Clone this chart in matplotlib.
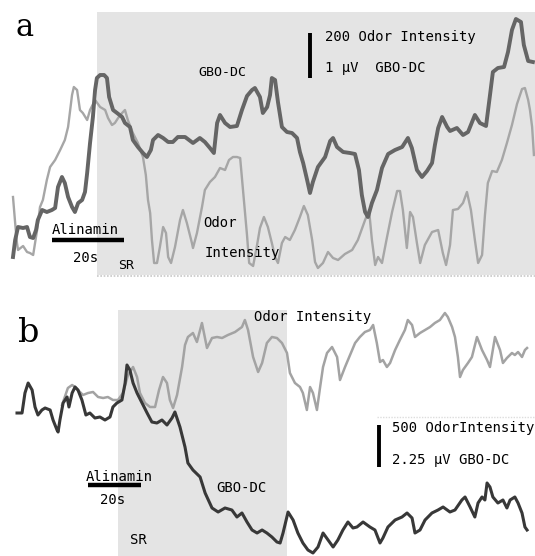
import numpy as np
import matplotlib
matplotlib.use("Agg")
from matplotlib import pyplot as plt

# ---- panel a: traces (time in s, amplitude in display units; scale bar = 45 units) ----
t_gbo_a = [0.0, 0.6, 1.4, 2.8, 3.9, 4.7, 5.6, 6.4, 6.9, 8.1, 9.4, 10.8, 11.7, 12.5, 13.6, 14.4,
           15.3, 16.4, 17.2, 18.1, 19.2, 20.0, 20.6, 21.4, 22.2, 22.8, 23.3, 24.2, 25.3, 26.1, 26.7,
           27.8, 28.9, 30.3, 31.1, 32.5, 33.3, 34.7, 36.1, 37.2, 38.3, 38.9, 40.3, 41.7, 43.1, 44.4,
           45.8, 47.8, 50.0, 51.9, 53.3, 54.7, 55.8, 56.7, 57.5, 58.9, 60.3, 62.2, 63.6, 65.0, 66.4,
           67.2, 68.6, 69.4, 70.6, 71.4, 71.9, 72.8, 73.6, 74.7, 76.1, 77.5, 78.9, 79.7, 80.6, 81.7,
           82.5, 83.3, 84.7, 86.7, 88.1, 88.9, 90.0, 91.7, 93.6, 95.0, 96.1, 96.9, 97.8, 98.6, 99.7,
           101.1, 102.5, 104.2, 106.1, 108.1, 109.7, 110.8, 112.2, 113.6, 115.0, 116.4, 117.2, 118.1,
           119.2, 120.6, 121.4, 123.3, 125.0, 126.4, 128.3, 129.7, 131.4, 132.5, 133.3, 134.7, 136.4,
           137.5, 138.6, 139.7, 141.1, 141.9, 143.1, 144.4]
gbo_a = [23, 40, 53, 52, 53, 43, 42, 50, 60, 70, 68, 70, 72, 93, 103, 97,
         83, 73, 68, 77, 80, 88, 107, 137, 163, 190, 202, 205, 205, 202, 183,
         170, 167, 163, 157, 153, 140, 133, 127, 123, 130, 140, 145, 142, 138, 138,
         143, 143, 137, 142, 138, 132, 127, 157, 165, 157, 153, 154, 170, 184, 190,
         192, 183, 167, 173, 185, 202, 200, 178, 153, 148, 147, 142, 128, 117, 100,
         87, 98, 113, 123, 139, 142, 133, 128, 127, 126, 110, 85, 68, 63, 77,
         90, 112, 126, 130, 133, 142, 132, 110, 103, 109, 117, 135, 152,
         163, 153, 149, 152, 145, 148, 165, 157, 154, 185, 208, 212, 213,
         228, 250, 261, 258, 235, 219, 218]

t_odor_a = [0.0, 0.6, 1.1, 1.4, 2.8, 3.9, 4.7, 5.6, 6.7, 7.5, 8.3, 9.4, 10.3, 11.7, 13.1, 14.4,
            15.3, 16.4, 16.9, 17.8, 18.6, 19.4, 20.6, 21.4, 22.8, 24.2, 25.6, 26.4, 27.5, 28.3,
            29.2, 30.3, 31.1, 31.9, 33.3, 34.7, 36.1, 36.9, 37.5, 38.1, 38.6, 39.2, 40.0, 40.8,
            41.7, 42.5, 43.1, 43.9, 45.0, 46.4, 47.2, 48.3, 49.7, 50.0, 51.1, 52.5, 53.3, 54.7,
            56.1, 57.5, 58.9, 60.0, 61.1, 62.2, 63.1, 63.9, 65.0, 65.6, 66.7, 67.8, 68.6, 69.7,
            70.8, 71.9, 72.8, 73.6, 74.7, 75.6, 76.9, 78.3, 79.7, 80.8, 81.9, 83.1, 83.9, 84.7,
            86.1, 87.5, 88.9, 90.3, 92.2, 94.2, 95.8, 97.8, 98.9, 99.7, 100.6, 101.4, 102.5, 103.9,
            105.3, 106.7, 107.5, 108.3, 109.4, 110.3, 111.1, 112.2, 113.1, 114.4, 116.4, 118.1,
            119.4, 120.3, 121.4, 122.2, 123.6, 125.0, 126.1, 127.2, 128.3, 129.2, 130.3, 131.1,
            131.9, 133.1, 134.4, 135.8, 137.2, 138.6, 140.0, 141.4, 142.2, 143.1, 143.6, 144.2, 144.7]
odor_a = [83, 57, 37, 30, 34, 28, 27, 25, 50, 73, 80, 100, 113, 120, 130, 140,
          153, 185, 193, 190, 170, 167, 160, 170, 180, 173, 170, 162, 155, 157,
          162, 167, 170, 160, 147, 137, 123, 105, 80, 67, 40, 17, 17, 33,
          53, 47, 23, 17, 33, 60, 70, 57, 37, 32, 47, 73, 90, 98,
          103, 112, 110, 120, 123, 123, 122, 90, 45, 17, 14, 35, 52, 63,
          53, 37, 23, 17, 37, 43, 40, 50, 63, 74, 65, 40, 18, 12,
          17, 28, 22, 20, 26, 30, 40, 60, 70, 40, 15, 23, 17, 43,
          68, 89, 89, 70, 32, 68, 63, 37, 17, 35, 48, 50,
          27, 15, 35, 70, 71, 77, 88, 70, 40, 17, 25, 65,
          97, 109, 108, 120, 137, 155, 176, 191, 192, 180, 170, 153, 125]

# ---- panel b ----
t_gbo_b = [0.0, 1.9, 3.0, 4.2, 5.7, 6.8, 7.9, 9.4, 10.6, 12.5, 13.6, 15.1, 15.5, 16.2, 17.4, 18.9,
           19.6, 20.8, 21.9, 23.0, 24.5, 26.0, 27.5, 29.4, 31.3, 33.2, 35.1, 36.2, 37.7, 39.6, 40.8,
           41.5, 42.6, 43.8, 45.3, 47.2, 49.1, 50.9, 52.8, 54.7, 56.6, 58.5, 59.6, 61.5, 63.4, 64.5,
           66.4, 69.1, 71.0, 73.6, 75.9, 78.5, 81.1, 83.0, 84.9, 86.8, 88.7, 90.6, 92.5, 94.3, 96.2,
           98.1, 99.3, 100.4, 102.3, 104.2, 106.0, 107.9, 109.8, 111.7, 113.6, 115.5, 117.4, 119.3,
           121.1, 123.0, 124.9, 126.8, 128.3, 130.6, 133.2, 135.1, 137.0, 138.1, 140.0, 142.7, 145.3,
           147.2, 149.1, 150.2, 152.1, 154.0, 156.6, 158.9, 160.8, 163.4, 165.3, 167.9, 169.1, 171.0,
           172.8, 174.0, 175.5, 176.6, 177.4, 178.5, 179.6, 181.5, 183.4, 184.9, 186.1, 187.9, 189.1,
           190.6, 191.7, 192.5]
gbo_b = [147, 147, 167, 177, 170, 153, 145, 150, 152, 150, 140, 130, 128, 140, 157, 163,
         153, 167, 173, 170, 160, 145, 147, 142, 143, 140, 143, 153, 157, 160, 177,
         195, 190, 177, 167, 157, 147, 138, 137, 140, 135, 142, 148, 133, 113, 97,
         90, 83, 67, 52, 48, 52, 50, 43, 47, 38, 30, 27, 30, 27, 23,
         18, 17, 27, 48, 40, 27, 17, 10, 7, 13, 27, 20, 13,
         20, 30, 38, 32, 33, 38, 33, 30, 17, 22, 33, 40, 43,
         47, 42, 27, 30, 40, 47, 50, 53, 48, 50, 60, 63, 53,
         43, 57, 63, 60, 77, 73, 63, 57, 60, 52, 60, 63, 57,
         47, 33, 30]

t_odor_b = [17.0, 19.2, 20.8, 21.9, 23.0, 24.9, 26.8, 28.7, 30.6, 32.5, 34.3, 36.2, 38.1, 40.0,
            41.9, 43.8, 45.3, 46.4, 48.3, 50.2, 52.1, 53.6, 55.1, 56.6, 57.7, 58.9, 60.4, 62.3,
            63.4, 64.5, 66.4, 67.9, 69.8, 71.7, 73.6, 75.5, 77.4, 79.6, 82.3, 84.9, 86.0, 87.2,
            89.1, 91.0, 92.5, 94.3, 96.2, 98.1, 100.0, 101.9, 103.0, 104.9, 106.8, 107.9, 109.4,
            110.6, 111.7, 113.2, 114.4, 115.5, 117.0, 118.9, 120.8, 121.9, 123.8, 125.7, 127.6,
            129.4, 131.3, 133.2, 134.4, 135.8, 137.0, 138.1, 139.6, 140.8, 142.7, 144.5, 146.4,
            147.5, 149.1, 150.2, 152.1, 154.0, 155.9, 157.7, 159.6, 161.5, 162.6, 164.2, 165.3,
            166.4, 167.2, 168.3, 170.2, 171.7, 173.6, 175.5, 177.4, 178.5, 180.4, 182.3, 183.4,
            184.9, 186.8, 187.9, 189.1, 190.6, 191.7, 192.5]
odor_b = [155, 172, 175, 173, 170, 165, 167, 168, 163, 162, 163, 160, 160, 167,
          185, 193, 183, 167, 157, 153, 153, 170, 183, 177, 160, 152, 165, 193,
          215, 223, 227, 218, 237, 212, 222, 223, 222, 225, 228, 233, 240, 230,
          203, 188, 197, 217, 223, 222, 217, 207, 187, 177, 173, 167, 150,
          173, 167, 150, 173, 193, 207, 213, 203, 180, 193, 205, 217,
          223, 228, 230, 235, 217, 198, 200, 193, 197, 210, 220, 230,
          240, 235, 223, 227, 230, 233, 237, 240, 247, 243, 233, 223,
          203, 183, 190, 197, 203, 223, 210, 200, 193, 223, 210, 197,
          202, 207, 205, 208, 203, 210, 212]

# stimulus windows (s) and scale bars
sr_a = (23.3, 145.0)
sr_b = (38.1, 101.9)
bar_units = 45          # vertical scale bar height, display units

shade = "#e4e4e4"
mono = "DejaVu Sans Mono"

fig = plt.figure(figsize=(5.35, 5.56), dpi=100)

# ---------------- panel a ----------------
ax = fig.add_axes([0, 271 / 556, 1, 285 / 556])
ax.set_xlim(-3.61, 145.0)
ax.set_ylim(-5, 280)
ax.axis("off")
ax.fill_between(sr_a, 5, 268, color=shade, lw=0, zorder=0)
ax.plot(sr_a, [4, 4], color="#c8c8c8", lw=1.2, ls=(0, (1, 1)), zorder=1)
ax.plot(t_odor_a, odor_a, color="#a6a6a6", lw=1.7, zorder=2, solid_joinstyle="round")
ax.plot(t_gbo_a, gbo_a, color="#656565", lw=2.8, zorder=3, solid_joinstyle="round")
ax.plot([10.8, 30.8], [40, 40], color="black", lw=3.2, solid_capstyle="butt")
ax.plot([82.5, 82.5], [202, 202 + bar_units], color="black", lw=2.8, solid_capstyle="butt")

fig.text(0.045, 0.951, "a", fontsize=22, ha="center", va="center", family="DejaVu Serif")
fig.text(0.6075, 0.9335, "200 Odor Intensity", fontsize=10, family=mono, va="center")
fig.text(0.6075, 0.8777, "1 μV  GBO-DC", fontsize=10, family=mono, va="center")
fig.text(0.415, 0.8705, "GBO-DC", fontsize=9.5, family=mono, ha="center", va="center")
fig.text(0.379, 0.599, "Odor", fontsize=10, family=mono, va="center")
fig.text(0.383, 0.545, "Intensity", fontsize=10, family=mono, va="center")
fig.text(0.097, 0.5863, "Alinamin", fontsize=10, family=mono, va="center")
fig.text(0.136, 0.536, "20s", fontsize=10, family=mono, va="center")
fig.text(0.2206, 0.5216, "SR", fontsize=9.5, family=mono, va="center")

# ---------------- panel b ----------------
bx = fig.add_axes([0, 0, 1, 271 / 556])
bx.set_xlim(-6.42, 195.5)
bx.set_ylim(4, 275)
bx.axis("off")
bx.fill_between(sr_b, 4, 250, color=shade, lw=0, zorder=0)
bx.plot([135.8, 195.5], [143, 143], color="#dddddd", lw=1.0, ls=(0, (1, 1)), zorder=1)
bx.plot(t_odor_b, odor_b, color="#a3a3a3", lw=1.8, zorder=2, solid_joinstyle="round")
bx.plot(t_gbo_b, gbo_b, color="#383838", lw=2.2, zorder=3, solid_joinstyle="round")
bx.plot([26.8, 46.8], [75, 75], color="black", lw=3.2, solid_capstyle="butt")
bx.plot([136.6, 136.6], [93, 135], color="black", lw=2.8, solid_capstyle="butt")

fig.text(0.054, 0.401, "b", fontsize=24, ha="center", va="center", family="DejaVu Serif")
fig.text(0.475, 0.4299, "Odor Intensity", fontsize=10, family=mono, va="center")
fig.text(0.733, 0.2302, "500 OdorIntensity", fontsize=10, family=mono, va="center")
fig.text(0.733, 0.1727, "2.25 μV GBO-DC", fontsize=10, family=mono, va="center")
fig.text(0.452, 0.1223, "GBO-DC", fontsize=10, family=mono, ha="center", va="center")
fig.text(0.161, 0.142, "Alinamin", fontsize=10, family=mono, va="center")
fig.text(0.187, 0.1007, "20s", fontsize=10, family=mono, va="center")
fig.text(0.243, 0.0288, "SR", fontsize=10, family=mono, va="center")

fig.savefig("out.png", dpi=100, facecolor="white")
